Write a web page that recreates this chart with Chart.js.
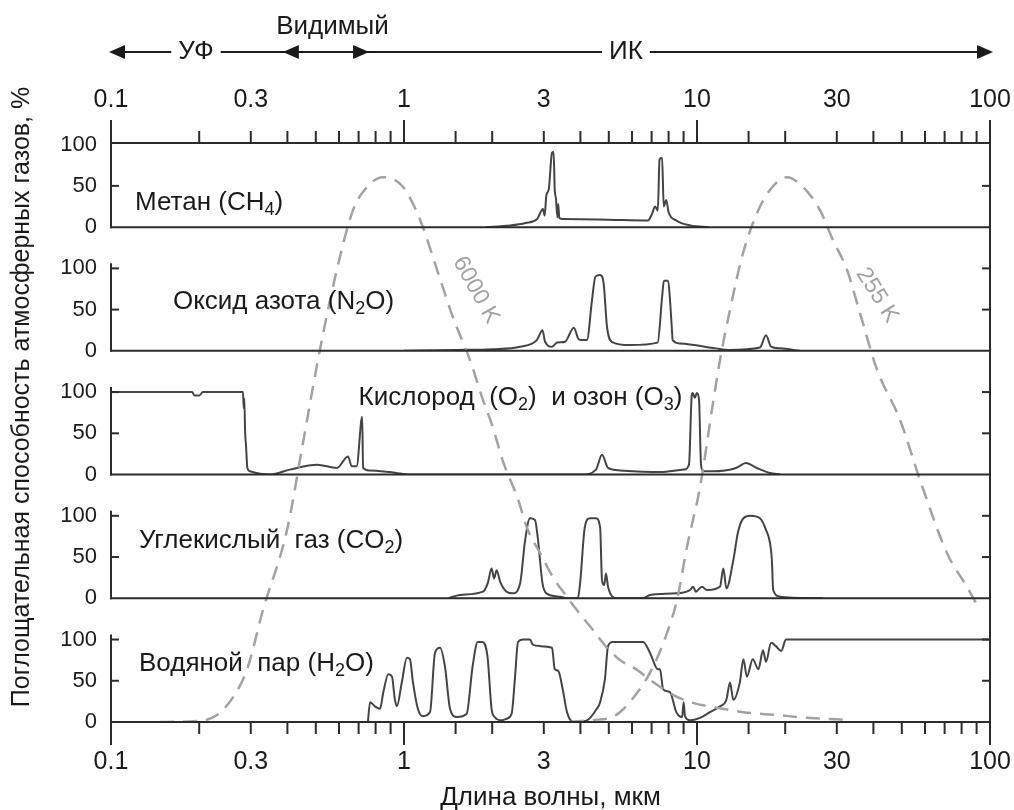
<!DOCTYPE html>
<html>
<head>
<meta charset="utf-8">
<script src="https://cdn.jsdelivr.net/npm/chart.js@4.4.1/dist/chart.umd.min.js"></script>
<style>
  html, body { margin: 0; padding: 0; background: #fff; }
  #wrap { width: 1014px; height: 810px; }
</style>
</head>
<body>
<div id="wrap"><canvas id="chart" width="1014" height="810"></canvas></div>
<script>
// wavelength axis labels (µm) and percent ticks
const wavelengthTicks = [0.1, 0.3, 1, 3, 10, 30, 100];
const percentTicks = [0, 50, 100];

// methane
const ch4Wavelength = [1.9, 2.3, 2.6, 2.85, 2.98, 3.02, 3.06, 3.12, 3.2, 3.24, 3.27, 3.3, 3.34, 3.36, 3.39, 3.5, 5.0, 6.8, 7.0, 7.2, 7.35, 7.45, 7.6, 7.7, 7.85, 8.0, 8.5, 9.5, 11];
const ch4Absorption = [0, 2, 5, 10, 22, 14, 38, 46, 90, 91, 45, 35, 12, 28, 11, 10, 9, 8, 15, 25, 20, 82, 84, 25, 33, 18, 8, 2, 0];

// nitrous oxide
const n2oWavelength = [1.0, 1.5, 2.0, 2.49, 2.84, 2.97, 3.03, 3.2, 3.33, 3.54, 3.8, 3.92, 3.99, 4.21, 4.38, 4.5, 4.67, 4.8, 4.93, 5.12, 5.91, 7.34, 7.6, 7.71, 7.97, 8.09, 8.2, 8.26, 8.75, 11.6, 12.8, 16.4, 17.2, 17.9, 19.2, 22.5];
const n2oAbsorption = [0, 1, 2, 5, 13, 25, 11, 5, 10, 11, 28, 16, 13, 13, 61, 90, 92, 82, 29, 11, 7, 10, 65, 85, 85, 61, 29, 13, 9, 3, 1, 4, 19, 5, 3, 0];

// oxygen and ozone
const o3Wavelength = [0.1, 0.189, 0.193, 0.2, 0.206, 0.282, 0.284, 0.285, 0.287, 0.289, 0.292, 0.298, 0.349, 0.408, 0.505, 0.59, 0.644, 0.663, 0.689, 0.72, 0.725, 0.76, 0.896, 1.05, 4.05, 4.52, 4.74, 4.97, 5.46, 7.48, 9.03, 9.39, 9.6, 9.67, 9.83, 9.99, 10.16, 10.32, 10.5, 11.3, 13.6, 14.7, 16.0, 17.75, 19.2];
const o3Absorption = [100, 100, 96, 96, 100, 100, 80, 92, 50, 35, 8, 4, 0, 6, 12, 8, 22, 10, 10, 70, 8, 5, 3, 0, 0, 6, 24, 8, 5, 3, 6, 12, 97, 99, 93, 99, 91, 12, 4, 4, 8, 14, 8, 2, 0];

// carbon dioxide
const co2Wavelength = [1.415, 1.553, 1.86, 1.93, 1.99, 2.03, 2.07, 2.13, 2.24, 2.35, 2.49, 2.59, 2.69, 2.8, 2.86, 2.97, 3.06, 3.41, 3.6, 3.92, 3.99, 4.14, 4.31, 4.52, 4.67, 4.74, 4.82, 4.89, 4.97, 5.33, 6.55, 6.91, 8.5, 9.47, 9.69, 9.91, 10.4, 10.8, 11.98, 12.3, 12.6, 13.3, 13.8, 14.4, 15.2, 16.4, 17.2, 17.75, 18.0, 18.2, 19.2, 26.8];
const co2Absorption = [0, 4, 8, 18, 36, 24, 34, 20, 8, 6, 18, 70, 97, 95, 74, 18, 6, 2, 0, 0, 18, 86, 97, 97, 86, 22, 16, 30, 14, 0, 0, 4, 6, 10, 14, 8, 14, 10, 14, 36, 12, 46, 80, 97, 100, 97, 83, 67, 48, 10, 2, 0];

// water vapour
const h2oWavelength = [0.753, 0.766, 0.795, 0.828, 0.85, 0.884, 0.91, 0.93, 0.945, 0.983, 1.023, 1.048, 1.073, 1.115, 1.16, 1.227, 1.276, 1.327, 1.38, 1.436, 1.515, 1.636, 1.714, 1.785, 1.85, 1.928, 1.99, 2.04, 2.15, 2.24, 2.33, 2.39, 2.45, 2.55, 2.69, 2.75, 2.91, 3.2, 3.27, 3.36, 3.48, 3.6, 3.79, 4.21, 4.55, 4.67, 4.85, 4.97, 5.16, 5.91, 6.55, 6.91, 7.35, 7.48, 7.66, 8.09, 8.5, 8.9, 9.0, 9.1, 9.47, 10.24, 11.08, 11.98, 12.6, 12.96, 13.3, 14.0, 14.4, 14.8, 15.5, 16.2, 16.8, 17.2, 17.9, 18.6, 19.4, 20.1, 100];
const h2oAbsorption = [0, 24, 19, 16, 36, 58, 55, 28, 19, 48, 78, 76, 48, 16, 7, 12, 84, 90, 67, 16, 6, 10, 67, 97, 97, 79, 16, 6, 2, 4, 10, 52, 97, 100, 100, 94, 92, 90, 64, 62, 40, 12, 0, 2, 16, 24, 52, 92, 97, 97, 97, 84, 64, 64, 40, 36, 12, 6, 24, 7, 2, 5, 12, 19, 27, 48, 27, 48, 76, 55, 76, 64, 87, 73, 96, 92, 86, 100, 100];

// black body curves (relative units)
const bb6000Wavelength = [0.147, 0.201, 0.23, 0.261, 0.291, 0.33, 0.399, 0.452, 0.516, 0.59, 0.67, 0.748, 0.848, 0.993, 1.135, 1.297, 1.469, 1.68, 1.861, 2.013, 2.177, 2.449, 2.63, 2.912, 3.225, 3.6, 3.894, 4.416, 4.93, 5.46, 6.24, 6.91, 8.28, 9.69, 11.34, 14.36, 18.75, 24.3, 33.3];
const bb6000Intensity = [0, 0.2, 1.2, 4.3, 9.0, 19.3, 33.2, 48.2, 64.2, 78.1, 88.4, 92.4, 94.1, 92.4, 86.7, 78.1, 69.9, 62.5, 55.6, 50.8, 45.0, 38.5, 33.5, 29.2, 25.0, 21.6, 19.3, 15.9, 12.8, 10.7, 9.0, 7.3, 4.7, 3.3, 2.6, 1.7, 1.2, 0.7, 0.35];
const bb255Wavelength = [3.686, 4.416, 5.167, 6.24, 7.075, 7.9, 8.55, 9.24, 10.24, 11.34, 11.98, 12.96, 14.36, 16.03, 17.75, 20.28, 23.0, 26.29, 29.12, 32.5, 36.0, 41.2, 49.3, 57.7, 71.3, 83.5, 91.0];
const bb255Intensity = [0, 0.35, 0.9, 5.0, 9.5, 15.4, 21.1, 30.2, 40.6, 55.1, 62.5, 71.2, 81.0, 87.9, 91.9, 94.1, 92.4, 88.4, 83.2, 78.1, 70.6, 60.8, 52.2, 41.8, 29.2, 23.3, 19.9];

const FONT = '"Liberation Sans", Arial, sans-serif';
const TEXT = '#1a1a1a';
const AXIS = '#2b2b2b';
const GAS = '#444444';
const BB = '#a2a2a2';

Chart.defaults.font.family = FONT;
Chart.defaults.color = TEXT;

function series(xs, ys) {
  return xs.map((x, i) => ({ x: x, y: ys[i] }));
}

function isDecade(v) {
  const l = Math.log10(v);
  return Math.abs(l - Math.round(l)) < 1e-6;
}

function waveLabel(v) {
  const t = wavelengthTicks.find(w => Math.abs(v / w - 1) < 1e-6);
  return t === undefined ? '' : String(t);
}

// panel texts: x in µm, y in the panel's percent
const panelLabels = [
  { axis: 'yCH4', x: 0.1208, y: 29, text: 'Метан (CH_4)' },
  { axis: 'yN2O', x: 0.1627, y: 59, text: 'Оксид азота (N_2O)' },
  { axis: 'yO3', x: 0.7, y: 93, text: 'Кислород  (O_2)  и озон (O_3)' },
  { axis: 'yCO2', x: 0.1246, y: 70, text: 'Углекислый  газ (CO_2)' },
  { axis: 'yH2O', x: 0.1246, y: 71, text: 'Водяной  пар (H_2O)' }
];

const curveLabels = [
  { x: 1.76, y: 74.6, angle: 61, text: '6000 K' },
  { x: 41.2, y: 73.7, angle: 58, text: '255 K' }
];

function drawFormula(ctx, text, x, y, size) {
  const parts = text.split(/(_\d)/).filter(p => p.length);
  let cx = x;
  parts.forEach(p => {
    const sub = p[0] === '_';
    const t = sub ? p.slice(1) : p;
    ctx.font = (sub ? Math.round(size * 0.7) : size) + 'px ' + FONT;
    ctx.fillText(t, cx, sub ? y + size * 0.28 : y);
    cx += ctx.measureText(t).width;
  });
}

function gasScale(max, weight) {
  return {
    type: 'linear',
    position: 'left',
    stack: 'gas',
    stackWeight: weight,
    min: 0,
    max: max,
    grid: { display: false, drawTicks: false },
    border: { display: false },
    afterBuildTicks: s => { s.ticks = percentTicks.map(v => ({ value: v })); },
    ticks: {
      autoSkip: false,
      padding: 14,
      font: { size: 22 },
      color: TEXT,
      callback: v => String(v)
    },
    afterFit: s => { s.width = 111; }
  };
}

function waveScale(position) {
  return {
    type: 'logarithmic',
    position: position,
    min: 0.1,
    max: 100,
    grid: { display: false, drawTicks: false },
    border: { display: false },
    ticks: {
      autoSkip: false,
      maxRotation: 0,
      padding: position === 'top' ? 28 : 25,
      font: { size: 25 },
      color: TEXT,
      callback: v => waveLabel(v)
    },
    afterFit: s => {
      s.height = position === 'top' ? 143 : 88;
      s.paddingLeft = 0;
      s.paddingRight = 24;
    }
  };
}

const frame = {
  id: 'frame',
  afterDatasetsDraw(chart) {
    const { ctx, chartArea: a, scales } = chart;
    const line = (x1, y1, x2, y2) => {
      ctx.beginPath(); ctx.moveTo(x1, y1); ctx.lineTo(x2, y2); ctx.stroke();
    };
    ctx.save();
    ctx.strokeStyle = AXIS;
    ctx.lineWidth = 2;
    ctx.lineCap = 'square';

    line(a.left, a.top, a.right, a.top);
    line(a.right, a.top, a.right, a.bottom);
    ['yCH4', 'yN2O', 'yO3', 'yCO2', 'yH2O'].forEach(id => {
      const s = scales[id];
      const y0 = s.getPixelForValue(0);
      const isTop = Math.abs(s.top - a.top) < 1;
      line(a.left, y0, a.right, y0);
      line(a.left, y0, a.left, isTop ? a.top : s.getPixelForValue(100) - 4);
      [50, 100].forEach(v => {
        const y = s.getPixelForValue(v);
        if (y < a.top + 4) return;
        line(a.left, y, a.left + 7, y);
        line(a.right, y, a.right - 7, y);
      });
    });

    ['x', 'xTop'].forEach(id => {
      const s = scales[id];
      const dir = id === 'x' ? 1 : -1;
      const yb = id === 'x' ? a.bottom : a.top;
      s.ticks.forEach(t => {
        const px = s.getPixelForValue(t.value);
        line(px, yb, px, yb + dir * (isDecade(t.value) ? 22 : 11));
      });
    });

    // gas names
    ctx.fillStyle = TEXT;
    ctx.textBaseline = 'middle';
    ctx.textAlign = 'left';
    panelLabels.forEach(l => {
      drawFormula(ctx, l.text, scales.x.getPixelForValue(l.x), scales[l.axis].getPixelForValue(l.y), 26);
    });

    // black body temperatures
    ctx.fillStyle = BB;
    ctx.textAlign = 'center';
    ctx.font = '23px ' + FONT;
    curveLabels.forEach(l => {
      ctx.save();
      ctx.translate(scales.x.getPixelForValue(l.x), scales.yBB.getPixelForValue(l.y));
      ctx.rotate(l.angle * Math.PI / 180);
      ctx.fillText(l.text, 0, 0);
      ctx.restore();
    });

    // spectral regions above the top axis
    const xs = scales.xTop;
    const p = v => xs.getPixelForValue(v);
    const yA = 52;
    ctx.strokeStyle = TEXT;
    ctx.lineCap = 'butt';
    line(p(0.1) + 4, yA, p(100) - 4, yA);
    ctx.font = '26px ' + FONT;
    [['УФ', 0.195], ['ИК', 5.72]].forEach(([t, v]) => {
      const w = ctx.measureText(t).width + 14;
      ctx.fillStyle = '#fff';
      ctx.fillRect(p(v) - w / 2, yA - 14, w, 28);
      ctx.fillStyle = TEXT;
      ctx.fillText(t, p(v), yA);
    });
    ctx.fillText('Видимый', p(0.57), 27);
    [[0.1, -1, 2], [0.386, -1, 0], [0.76, 1, 0], [100, 1, 3]].forEach(([v, dir, off]) => {
      const tip = p(v) + dir * off;
      ctx.beginPath();
      ctx.moveTo(tip, yA);
      ctx.lineTo(tip - dir * 16, yA - 7);
      ctx.lineTo(tip - dir * 16, yA + 7);
      ctx.closePath();
      ctx.fill();
    });

    // vertical axis title
    ctx.save();
    ctx.translate(22, 397);
    ctx.rotate(-Math.PI / 2);
    ctx.font = '25px ' + FONT;
    ctx.fillText('Поглощательная способность атмосферных газов, %', 0, 0);
    ctx.restore();

    ctx.restore();
  }
};

const gasStyle = {
  borderColor: GAS,
  borderWidth: 2,
  pointRadius: 0,
  fill: false,
  cubicInterpolationMode: 'monotone'
};
const bbStyle = {
  borderColor: BB,
  borderWidth: 2.5,
  borderDash: [14, 9],
  pointRadius: 0,
  fill: false,
  cubicInterpolationMode: 'monotone',
  yAxisID: 'yBB'
};

new Chart(document.getElementById('chart'), {
  type: 'line',
  data: {
    datasets: [
      { ...bbStyle, label: '6000 K', data: series(bb6000Wavelength, bb6000Intensity) },
      { ...bbStyle, label: '255 K', data: series(bb255Wavelength, bb255Intensity) },
      { ...gasStyle, label: 'CH4', yAxisID: 'yCH4', data: series(ch4Wavelength, ch4Absorption) },
      { ...gasStyle, label: 'N2O', yAxisID: 'yN2O', data: series(n2oWavelength, n2oAbsorption) },
      { ...gasStyle, label: 'O2 O3', yAxisID: 'yO3', data: series(o3Wavelength, o3Absorption) },
      { ...gasStyle, label: 'CO2', yAxisID: 'yCO2', data: series(co2Wavelength, co2Absorption) },
      { ...gasStyle, label: 'H2O', yAxisID: 'yH2O', data: series(h2oWavelength, h2oAbsorption) }
    ]
  },
  options: {
    responsive: false,
    animation: false,
    layout: { padding: 0 },
    plugins: { legend: { display: false }, tooltip: { enabled: false } },
    scales: {
      x: {
        ...waveScale('bottom'),
        title: { display: true, text: 'Длина волны, мкм', font: { size: 26 }, color: TEXT, padding: { top: 0, bottom: -3 } }
      },
      xTop: waveScale('top'),
      yH2O: gasScale(150, 150),
      yCO2: gasScale(150, 150),
      yO3: gasScale(150, 150),
      yN2O: gasScale(150, 150),
      yCH4: gasScale(102, 102),
      yBB: { type: 'linear', display: false, position: 'left', min: 0, max: 100 }
    }
  },
  plugins: [frame]
});
</script>
</body>
</html>
